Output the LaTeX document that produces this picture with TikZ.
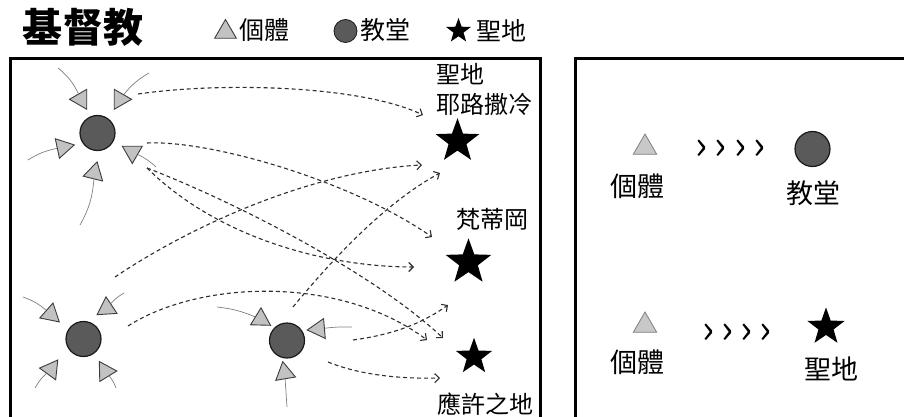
\documentclass[tikz,border=0pt]{standalone}
\usepackage{fontspec}
\setmainfont{Noto Sans CJK TC}
\usetikzlibrary{shapes.geometric,arrows.meta}

\definecolor{trifill}{HTML}{C2C2C2}
\definecolor{chufill}{HTML}{5A5A5A}
\definecolor{inkc}{HTML}{1A1A1A}
\definecolor{dashc}{HTML}{2E2E2E}
\definecolor{thinc}{HTML}{808080}

\tikzset{
  tri/.style={regular polygon, regular polygon sides=3, minimum size=23pt, inner sep=0pt,
    draw=inkc!85, fill=trifill, line width=0.9pt},
  church/.style={circle, minimum size=35pt, inner sep=0pt, draw=inkc, fill=chufill, line width=1.2pt},
  holy/.style={star, star points=5, star point ratio=2.45, inner sep=0pt, fill=black, draw=none},
  drift/.style={draw=thinc, line width=0.7pt},
  move/.style={draw=dashc, line width=1.1pt, dash pattern=on 4pt off 3pt,
    -{Straight Barb[length=4.5pt,width=9pt,line width=1.1pt]}},
  framebox/.style={draw=black, line width=3pt},
  lbl/.style={inner sep=0pt, text=black},
  lblA/.style={lbl, font=\fontsize{24}{30}\selectfont},
  lblB/.style={lbl, font=\fontsize{27}{30}\selectfont},
  lblL/.style={lbl, font=\fontsize{25}{30}\selectfont},
  chev/.style={lbl, font=\fontsize{40}{40}\selectfont},
  ptri/.style={tri, minimum size=27pt, draw=thinc, fill=trifill!90, line width=0.8pt},
}

\begin{document}
\begin{tikzpicture}[x=1pt,y=-1pt]
\clip (0,0) rectangle (904,417);
\fill[white] (0,0) rectangle (904,417);

% title and legend
\node[lbl, font=\fontsize{40}{40}\selectfont\bfseries] (title) at (83,27.5) {基督教};
\node[tri, minimum size=25pt] (legtri) at (225.5,32) {};
\node[lblL] (legind) at (264,30.5) {個體};
\node[church, minimum size=23pt, line width=0.8pt] (legch) at (345.5,31) {};
\node[lblL] (legchl) at (385.5,30.5) {教堂};
\node[holy, minimum size=26pt] (legst) at (458.5,31) {};
\node[lblL] (legstl) at (501.5,30.5) {聖地};

% frames
\draw[framebox] (10,59) rectangle (540,440);
\draw[framebox] (575,59) rectangle (920,440);

% churches
\node[church] (chA) at (97.5,133) {};
\node[church] (chB) at (83.5,339) {};
\node[church] (chC) at (287,340.5) {};

% individuals
\node[tri, rotate=90]    (t1)  at (81,99.3) {};
\node[tri, rotate=-90]   (t2)  at (120,99.3) {};
\node[tri, rotate=-78]   (t3)  at (63,147.3) {};
\node[tri, rotate=-14]   (t4)  at (94.3,173) {};
\node[tri, rotate=180]   (t5)  at (132.3,152) {};
\node[tri, rotate=-11.5] (t6)  at (50.7,314.3) {};
\node[tri, rotate=3.5]   (t7)  at (106.7,308.3) {};
\node[tri, rotate=84]    (t8)  at (51,369.3) {};
\node[tri, rotate=-88.5] (t9)  at (105.3,371.3) {};
\node[tri, rotate=-1.5]  (t10) at (260.7,319.3) {};
\node[tri, rotate=95]    (t11) at (318.7,329) {};
\node[tri, rotate=9.6]   (t12) at (284.7,373) {};

% drift lines
\coordinate (d1) at (58,68);
\coordinate (d2) at (149,73);
\coordinate (d3) at (28,160);
\coordinate (d4) at (80,225);
\coordinate (d5) at (156,167);
\coordinate (d6) at (23,297);
\coordinate (d7) at (124,293);
\coordinate (d8) at (35,388);
\coordinate (d9) at (116,388);
\coordinate (d10) at (217,307);
\coordinate (d11) at (352,327);
\coordinate (d12) at (287,407);
\draw[drift] (d1) to[bend left=12] (t1);
\draw[drift] (d2) to[bend right=10] (t2);
\draw[drift] (d3) to[bend left=10] (t3);
\draw[drift] (d4) to[bend right=12] (t4);
\draw[drift] (d5) to[bend right=8] (t5);
\draw[drift] (d6) to[bend left=10] (t6);
\draw[drift] (d7) to[bend right=8] (t7);
\draw[drift] (d8) to[bend left=8] (t8);
\draw[drift] (d9) to[bend right=8] (t9);
\draw[drift] (d10) to[bend left=8] (t10);
\draw[drift] (d11) to[bend right=4] (t11);
\draw[drift] (d12) to (t12);

% holy places
\node[holy, minimum size=46pt] (sJ) at (457.5,141.2) {};
\node[holy, minimum size=48pt] (sF) at (468.5,262.3) {};
\node[holy, minimum size=38pt] (sM) at (474,356.8) {};
\node[lblA, align=left, anchor=west] (lJ) at (436,90) {聖地\\耶路撒冷};
\node[lblA] (lF) at (492.5,219.5) {梵蒂岡};
\node[lblA] (lM) at (485,404) {應許之地};

% pilgrim routes
\coordinate (a1s) at (138,94);   \coordinate (a1e) at (423,115);
\coordinate (a2s) at (147,143);  \coordinate (a2e) at (432,237);
\coordinate (a3s) at (147,168);  \coordinate (a3e) at (414,267);
\coordinate (a4e) at (443,338);
\coordinate (a5s) at (115,277);  \coordinate (a5e) at (422,165);
\coordinate (a6s) at (293,307);  \coordinate (a6e) at (440,173);
\coordinate (a7s) at (128,326);  \coordinate (a7e) at (427,340);
\coordinate (a8s) at (353,340);  \coordinate (a8e) at (448,305);
\coordinate (a9s) at (328,362);  \coordinate (a9e) at (440,378);
\draw[move] (a1s) .. controls (220,82) and (360,85) .. (a1e);
\draw[move] (a2s) .. controls (210,140) and (350,180) .. (a2e);
\draw[move] (a3s) .. controls (220,240) and (330,267) .. (a3e);
\draw[move] (a3s) .. controls (230,200) and (370,270) .. (a4e);
\draw[move] (a5s) .. controls (200,220) and (320,170) .. (a5e);
\draw[move] (a6s) .. controls (340,250) and (390,200) .. (a6e);
\draw[move] (a7s) .. controls (200,280) and (340,275) .. (a7e);
\draw[move] (a8s) .. controls (390,335) and (420,325) .. (a8e);
\draw[move] (a9s) .. controls (360,375) and (400,379) .. (a9e);

% right panel
\node[ptri] (rt1) at (645,147.5) {};
\node[lblB] (rt1l) at (637.5,186) {個體};
\node[chev] (chev1) at (730.5,150) {›\hspace{7pt}›\hspace{7pt}›\hspace{7pt}›};
\node[church] (rc) at (812.5,149) {};
\node[lblB] (rcl) at (813.5,193.5) {教堂};
\node[ptri] (rt2) at (645,325.5) {};
\node[lblB] (rt2l) at (637.5,362.5) {個體};
\node[chev] (chev2) at (737,333.5) {›\hspace{7pt}›\hspace{7pt}›\hspace{7pt}›};
\node[holy, minimum size=39pt] (rs) at (826,327) {};
\node[lblB] (rsl) at (831,368.5) {聖地};
\end{tikzpicture}
\end{document}
